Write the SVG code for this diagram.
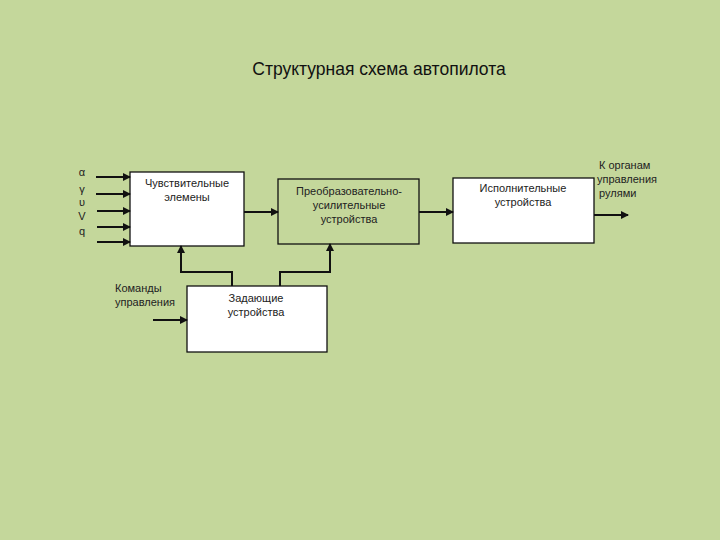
<svg xmlns="http://www.w3.org/2000/svg" width="720" height="540" viewBox="0 0 720 540">
<defs>
<marker id="ah" markerWidth="8" markerHeight="8" refX="7" refY="4" orient="auto" markerUnits="userSpaceOnUse">
<path d="M0,0 L8,4 L0,8 Z" fill="#111"/>
</marker>
<style>
.box{stroke:#111;stroke-width:1.3}
.w{fill:#ffffff}
.g{fill:#c4d79b}
.t{font-family:"Liberation Sans",Arial,sans-serif;font-size:11px;fill:#222}
.c{text-anchor:middle}
.ttl{font-family:"Liberation Sans",Arial,sans-serif;font-size:17.5px;fill:#111;text-anchor:middle}
.ln{fill:none;stroke:#111;stroke-width:2}
</style>
</defs>
<rect width="720" height="540" fill="#c4d79b"/>
<text class="ttl" x="379" y="75">Структурная схема автопилота</text>

<g id="inputs">
<text class="t c" x="82" y="176">α</text>
<text class="t c" x="82" y="193">γ</text>
<text class="t c" x="82" y="206">υ</text>
<text class="t c" x="82" y="220">V</text>
<text class="t c" x="82" y="235">q</text>
</g>

<g id="sens">
<rect class="box w" x="130" y="172" width="114" height="74"/>
<text class="t c" x="187" y="187">Чувствительные</text>
<text class="t c" x="187" y="201">элемены</text>
</g>

<g id="conv">
<rect class="box g" x="278" y="179" width="141" height="65"/>
<text class="t c" x="349" y="195">Преобразовательно-</text>
<text class="t c" x="349" y="209">усилительные</text>
<text class="t c" x="349" y="223">устройства</text>
</g>

<g id="exec">
<rect class="box w" x="453" y="178" width="141" height="65"/>
<text class="t c" x="523" y="192">Исполнительные</text>
<text class="t c" x="523" y="206">устройства</text>
</g>

<g id="zad">
<rect class="box w" x="187" y="286" width="140" height="66"/>
<text class="t c" x="256" y="302">Задающие</text>
<text class="t c" x="256" y="316">устройства</text>
</g>

<g id="cmd">
<text class="t" x="115" y="292">Команды</text>
<text class="t" x="115" y="306">управления</text>
</g>

<g id="out">
<text class="t" x="599" y="169">К органам</text>
<text class="t" x="597" y="183">управления</text>
<text class="t" x="599" y="197">рулями</text>
</g>

<g id="connectors">
<line class="ln" x1="96" y1="177" x2="130" y2="177" marker-end="url(#ah)"/>
<line class="ln" x1="96" y1="194" x2="130" y2="194" marker-end="url(#ah)"/>
<line class="ln" x1="97" y1="211" x2="130" y2="211" marker-end="url(#ah)"/>
<line class="ln" x1="97" y1="227" x2="130" y2="227" marker-end="url(#ah)"/>
<line class="ln" x1="97" y1="242" x2="130" y2="242" marker-end="url(#ah)"/>
<line class="ln" x1="244" y1="212" x2="278" y2="212" marker-end="url(#ah)"/>
<line class="ln" x1="419" y1="212" x2="453" y2="212" marker-end="url(#ah)"/>
<line class="ln" x1="594" y1="215" x2="628" y2="215" stroke-width="1.3" marker-end="url(#ah)"/>
<line class="ln" x1="153" y1="320" x2="187" y2="320" marker-end="url(#ah)"/>
<polyline class="ln" points="232,286 232,272 181,272 181,246" marker-end="url(#ah)"/>
<polyline class="ln" points="280,286 280,272 330,272 330,244" marker-end="url(#ah)"/>
</g>
</svg>
